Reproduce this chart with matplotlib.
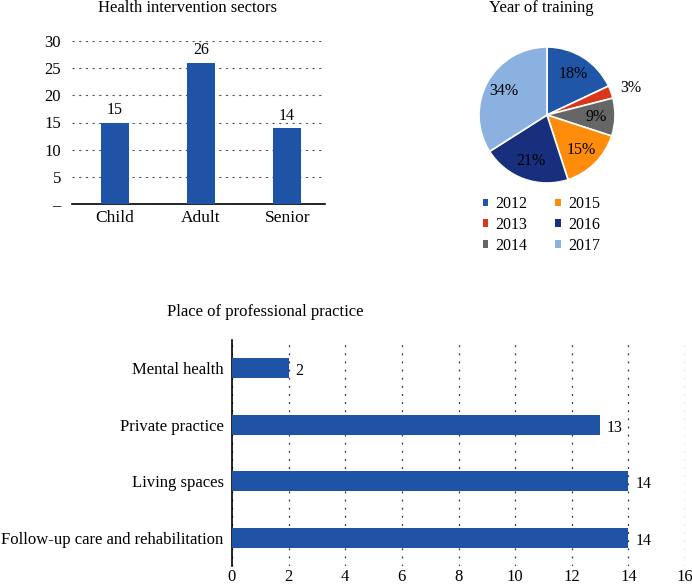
import matplotlib
matplotlib.use("Agg")
import matplotlib.pyplot as plt
import numpy as np
from matplotlib.patches import Patch

plt.rcParams['font.family'] = ['Liberation Serif', 'DejaVu Serif']

# ---- data ----
sector_cats = ["Child", "Adult", "Senior"]
sector_vals = [15, 26, 14]
sector_ticks = [0, 5, 10, 15, 20, 25, 30]
sector_ticklabels = ["–", "5", "10", "15", "20", "25", "30"]

years = ["2012", "2013", "2014", "2015", "2016", "2017"]
year_pct = [18, 3, 9, 15, 21, 34]
year_colors = ["#1f56a8", "#d9361c", "#666666", "#ff8c0a", "#182f7d", "#8bb1e0"]

place_cats = ["Mental health", "Private practice", "Living spaces",
              "Follow-up care and rehabilitation"]
place_vals = [2, 13, 14, 14]
place_ticks = [0, 2, 4, 6, 8, 10, 12, 14, 16]

bar_color = "#1f53a6"

W, H = 692, 586
fig = plt.figure(figsize=(W / 100, H / 100), dpi=100)

def box(l, t, r, b):
    return [l / W, 1 - b / H, (r - l) / W, (b - t) / H]

# ---- top-left bar chart ----
ax1 = fig.add_axes(box(72, 41, 325, 204))
x = np.arange(len(sector_cats))
ax1.bar(x, sector_vals, width=0.33, color=bar_color, zorder=3)
for xi, v in zip(x, sector_vals):
    ax1.text(xi, v + 0.8, str(v), ha="center", va="bottom", fontsize=11.5)
ax1.set_xlim(-0.5, 2.44)
ax1.set_ylim(0, 30)
ax1.set_yticks(sector_ticks)
ax1.set_yticklabels(sector_ticklabels, fontsize=12)
ax1.set_xticks(x)
ax1.set_xticklabels(sector_cats, fontsize=12.5)
ax1.tick_params(length=0, pad=8)
ax1.tick_params(axis='x', pad=4)
ax1.yaxis.grid(True, linestyle=(0, (2, 4)), color="#555555", linewidth=0.8)
for s in ["top", "right", "left"]:
    ax1.spines[s].set_visible(False)
ax1.spines["bottom"].set_color("black")
ax1.spines["bottom"].set_linewidth(1.2)
fig.text(187 / W, 1 - 8 / H, "Health intervention sectors", ha="center",
         va="center", fontsize=12)

# ---- pie ----
ax2 = fig.add_axes(box(479, 47, 615, 183))
wedges, texts, autotexts = ax2.pie(
    year_pct, colors=year_colors, startangle=90, counterclock=False,
    autopct=lambda p: "%d%%" % round(p), pctdistance=0.72,
    wedgeprops=dict(edgecolor="white", linewidth=1.2),
    textprops=dict(fontsize=11.5, color="black"))
ax2.set_xlim(-1, 1)
ax2.set_ylim(-1, 1)
ax2.set_aspect("equal")
# move small slice label outside
w = wedges[1]
ang = np.deg2rad((w.theta1 + w.theta2) / 2 - 2)
autotexts[1].set_position((1.3 * np.cos(ang), 1.3 * np.sin(ang)))
for t in autotexts:
    t.set_clip_on(False)
fig.text(541 / W, 1 - 8 / H, "Year of training", ha="center", va="center", fontsize=12)

handles = [Patch(facecolor=c, edgecolor="none") for c in year_colors]
fig.legend(handles, years, loc="upper left", bbox_to_anchor=(475 / W, 1 - 188 / H),
           ncol=2, frameon=False, borderpad=0, handlelength=0.33, handleheight=0.33,
           handletextpad=0.45, columnspacing=1.75, labelspacing=0.3,
           prop=dict(family="Liberation Serif", size=11.5))

# ---- bottom horizontal bar ----
ax3 = fig.add_axes(box(232, 340, 685, 566))
y = np.arange(len(place_cats))
ax3.barh(y, place_vals, height=0.35, color=bar_color, zorder=3)
for yi, v in zip(y, place_vals):
    ax3.text(v + 0.25, yi + 0.05, str(v), ha="left", va="center", fontsize=11.5)
ax3.set_ylim(-0.5, 3.5)
ax3.invert_yaxis()
ax3.set_xlim(0, 16)
ax3.set_xticks(place_ticks)
ax3.set_xticklabels([str(t) for t in place_ticks], fontsize=12)
ax3.set_yticks(y)
ax3.set_yticklabels(place_cats, fontsize=12)
ax3.tick_params(length=0)
ax3.tick_params(axis='y', pad=6)
ax3.tick_params(axis='x', pad=2)
ax3.xaxis.grid(True, linestyle=(0, (1.5, 5)), color="#333333", linewidth=0.9)
for s in ["top", "right", "bottom"]:
    ax3.spines[s].set_visible(False)
ax3.spines["left"].set_color("black")
ax3.spines["left"].set_linewidth(1.2)
fig.text(265 / W, 1 - 312 / H, "Place of professional practice", ha="center",
         va="center", fontsize=12)

fig.savefig("out.png", dpi=100)
